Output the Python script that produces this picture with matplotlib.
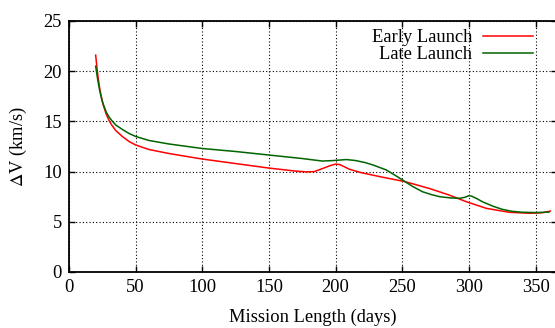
import matplotlib
matplotlib.use("Agg")
import matplotlib.pyplot as plt

plt.rcParams['font.family'] = ['Liberation Serif', 'DejaVu Serif']
plt.rcParams['mathtext.fontset'] = 'stix'

# early launch curve
early_days = [20, 21, 22, 23, 24, 25, 26, 28, 30, 32, 35, 40, 45, 50, 60, 75, 100, 125, 150,
              170, 178, 184, 190, 196, 200, 203, 207, 210, 218, 233, 252, 270, 285, 298, 313,
              330, 345, 355, 361]
early_dv = [21.6, 20.3, 19.2, 18.3, 17.6, 17.0, 16.5, 15.7, 15.1, 14.65, 14.1, 13.5, 13.0, 12.65,
            12.2, 11.8, 11.25, 10.8, 10.35, 10.05, 9.97, 10.0, 10.3, 10.6, 10.75, 10.7, 10.45,
            10.25, 9.93, 9.5, 9.0, 8.33, 7.67, 7.0, 6.34, 5.95, 5.85, 5.9, 6.07]

# late launch curve
late_days = [20, 21, 22, 23, 24, 25, 26, 28, 30, 32, 35, 40, 45, 50, 60, 75, 100, 125, 150, 175,
             190, 198, 208, 215, 222, 228, 238, 245, 252, 258, 265, 272, 278, 286, 293, 297, 300,
             302, 306, 310, 318, 325, 332, 340, 350, 360]
late_dv = [20.5, 19.6, 18.8, 18.1, 17.5, 17.0, 16.6, 15.9, 15.45, 15.1, 14.65, 14.2, 13.8, 13.5,
           13.1, 12.75, 12.3, 12.0, 11.65, 11.3, 11.05, 11.1, 11.2, 11.1, 10.9, 10.66, 10.16, 9.6,
           9.0, 8.5, 8.0, 7.7, 7.5, 7.38, 7.34, 7.45, 7.6, 7.55, 7.3, 7.0, 6.55, 6.24, 6.05, 5.95,
           5.92, 5.97]

xticks = [0, 50, 100, 150, 200, 250, 300, 350]
yticks = [0, 5, 10, 15, 20, 25]

fig = plt.figure(figsize=(5.55, 3.28), dpi=100)
ax = fig.add_axes([69/555, 1 - 272/328, (556.5 - 69)/555, (272 - 21)/328])

ax.plot(early_days, early_dv, color='#ff0000', lw=1.1, label='Early Launch')
ax.plot(late_days, late_dv, color='#006400', lw=1.1, label='Late Launch')

ax.set_xlim(0, 365.6)
ax.set_ylim(0, 25)
ax.set_xticks(xticks)
ax.set_yticks(yticks)
ax.tick_params(direction='in', length=4, width=1, top=True, right=True, labelsize=13.3, pad=5)
ax.grid(True, color='black', linestyle=(0, (1, 2)), linewidth=0.8)
for s in ax.spines.values():
    s.set_linewidth(1.3)

ax.set_xlabel('Mission Length (days)', fontsize=13.3)
ax.xaxis.set_label_coords(0.5, -0.148)
ax.set_ylabel(r'$\Delta$V (km/s)', fontsize=13.3)
ax.yaxis.set_label_coords(-0.082, 0.5)

leg = ax.legend(loc='upper right', frameon=False, markerfirst=False, fontsize=13.3,
                handlelength=2.7, handletextpad=0.6, labelspacing=0.0,
                borderaxespad=0.0, bbox_to_anchor=(0.967, 0.997))
for t in leg.get_texts():
    t.set_ha('right')

fig.savefig('out.png', dpi=100)
